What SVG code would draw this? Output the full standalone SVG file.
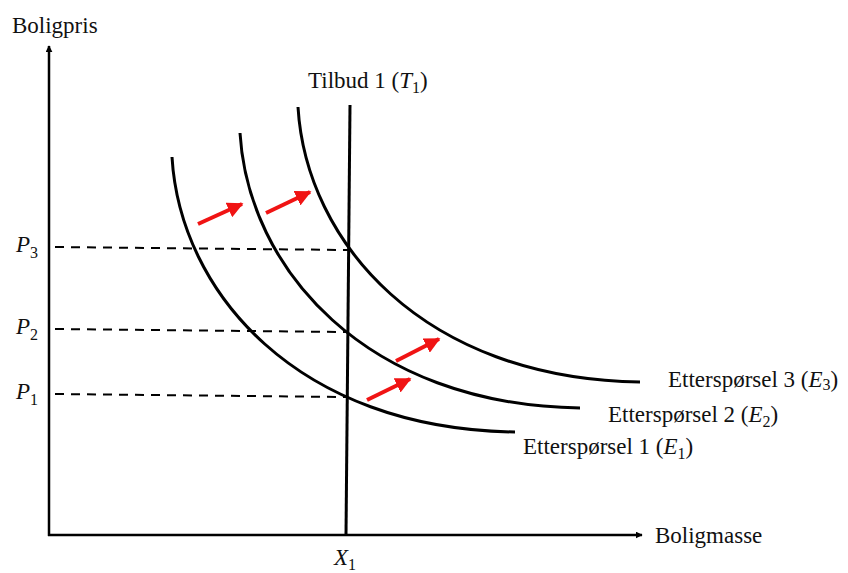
<svg xmlns="http://www.w3.org/2000/svg" width="848" height="573" viewBox="0 0 848 573">
<defs>
<marker id="ah" viewBox="0 0 10 10" refX="9" refY="5" markerWidth="7" markerHeight="7" markerUnits="userSpaceOnUse" orient="auto"><path d="M0,0 L10,5 L0,10 z" fill="#000"/></marker>
<marker id="rh" viewBox="0 0 10 10" refX="9" refY="5" markerWidth="4" markerHeight="4" orient="auto"><path d="M0,0 L10,5 L0,10 z" fill="#f01414"/></marker>
</defs>
<style>
text{font-family:"Liberation Serif","Times New Roman",serif;font-size:23px;fill:#111}
.m{font-style:italic}
.s{font-size:16px;font-style:normal}
.curve{fill:none;stroke:#000;stroke-width:3}
.dash{stroke:#000;stroke-width:2;stroke-dasharray:9,7;fill:none}
.red{stroke:#f01414;stroke-width:4;fill:none;marker-end:url(#rh)}
</style>
<rect width="848" height="573" fill="#fff"/>
<g id="axes">
<line x1="49" y1="536" x2="49" y2="46" stroke="#000" stroke-width="2.5" marker-end="url(#ah)"/>
<line x1="48" y1="535" x2="642" y2="535" stroke="#000" stroke-width="2.5" marker-end="url(#ah)"/>
</g>
<g id="dashes">
<line class="dash" x1="55" y1="247" x2="348" y2="250"/>
<line class="dash" x1="55" y1="329" x2="347" y2="332"/>
<line class="dash" x1="55" y1="394" x2="347" y2="397"/>
</g>
<g id="supply">
<line x1="350" y1="105" x2="346" y2="535" stroke="#000" stroke-width="3"/>
</g>
<g id="demand1"><path class="curve" d="M172,157 c8,135 125,272 343,275"/></g>
<g id="demand2"><path class="curve" d="M240,133 c8,135 125,272 340,275"/></g>
<g id="demand3"><path class="curve" d="M298,107 c8,135 125,272 342,275"/></g>
<g id="shifts">
<line class="red" x1="198" y1="224" x2="242" y2="204"/>
<line class="red" x1="266" y1="213" x2="310" y2="192"/>
<line class="red" x1="367" y1="400" x2="410" y2="379"/>
<line class="red" x1="396" y1="361" x2="439" y2="339"/>
</g>
<g id="labels">
<text x="12" y="33">Boligpris</text>
<text x="655" y="543">Boligmasse</text>
<text x="308" y="88">Tilbud 1 (<tspan class="m">T</tspan><tspan class="s" dy="5">1</tspan><tspan dy="-5">)</tspan></text>
<text x="16" y="252" class="m">P<tspan class="s" dy="6">3</tspan></text>
<text x="16" y="334" class="m">P<tspan class="s" dy="6">2</tspan></text>
<text x="16" y="399" class="m">P<tspan class="s" dy="6">1</tspan></text>
<text x="334" y="565" class="m">X<tspan class="s" dy="5">1</tspan></text>
<text x="668" y="387">Etterspørsel 3 (<tspan class="m">E</tspan><tspan class="s" dy="3">3</tspan><tspan dy="-3">)</tspan></text>
<text x="608" y="422">Etterspørsel 2 (<tspan class="m">E</tspan><tspan class="s" dy="5">2</tspan><tspan dy="-5">)</tspan></text>
<text x="523" y="454">Etterspørsel 1 (<tspan class="m">E</tspan><tspan class="s" dy="5">1</tspan><tspan dy="-5">)</tspan></text>
</g>
</svg>
